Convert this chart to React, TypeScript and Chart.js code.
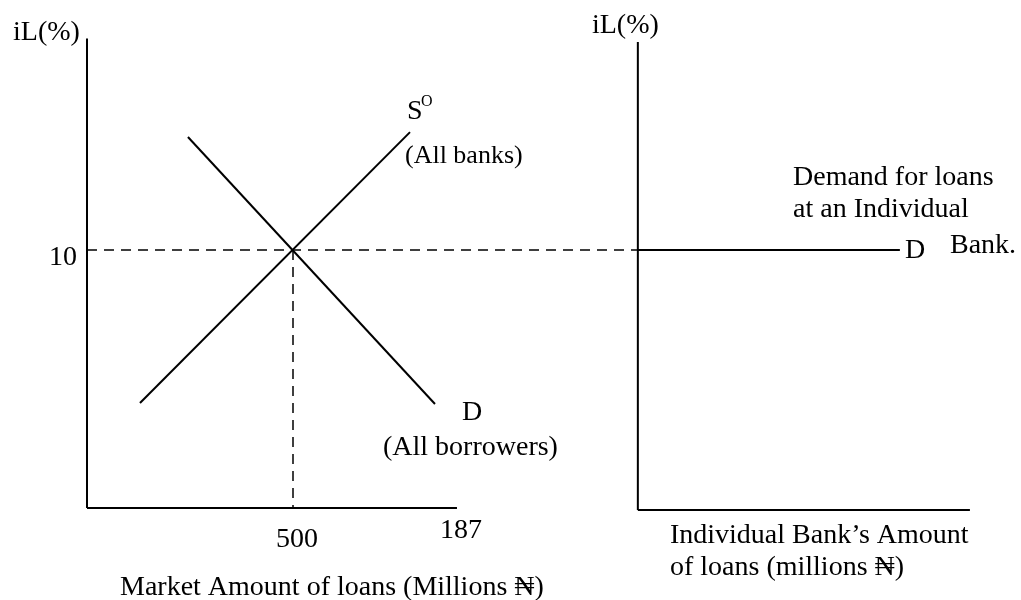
import React, { useEffect, useRef } from "react";
import { Chart, registerables } from "chart.js";

Chart.register(...registerables);

// Schematic units: quantity (millions ₦) on x, lending rate iL (%) on y.
// Left panel origin at (0,0); market equilibrium at Q = 500, iL = 10.
// Right panel (individual bank) origin placed at Q = 1337 on the same scale.

// --- Axes ---
const leftRateAxisQ = [0, 0];
const leftRateAxisR = [18.2, 0];
const leftQtyAxisQ = [0, 898];
const leftQtyAxisR = [0, 0];
const rightRateAxisQ = [1337, 1337];
const rightRateAxisR = [18.06, -0.08];
const rightQtyAxisQ = [1337, 2143];
const rightQtyAxisR = [-0.08, -0.08];

// --- Market supply S° (all banks) ---
const supplyQ = [128.6, 784];
const supplyR = [4.07, 14.57];

// --- Market demand D (all borrowers) ---
const demandQ = [245, 844.6];
const demandR = [14.38, 4.03];

// --- Equilibrium guide lines ---
const eqRateQ = [0, 1337];
const eqRateR = [10, 10];
const eqQtyQ = [500, 500];
const eqQtyR = [10, 0];

// --- Demand for loans at an individual bank (horizontal) ---
const bankDemandQ = [1337, 1973];
const bankDemandR = [10, 10];

// --- Tick labels ---
const rateTick = "10";
const qtyTick = "500";
const axisEndTick = "187";

// --- Text annotations ---
const annotTexts = [
  "iL(%)",
  "iL(%)",
  "S",
  "O",
  "(All banks)",
  "D",
  "(All borrowers)",
  rateTick,
  qtyTick,
  axisEndTick,
  "Market Amount of loans (Millions ₦)",
  "Individual Bank’s Amount",
  "of loans (millions ₦)",
  "Demand for loans",
  "at an Individual",
  "D",
  "Bank.",
];
const annotQ = [-179.6, 1225.7, 776.7, 810.7, 771.8, 910.2, 718.4, -24.3, 509.7, 856.8, 80.1, 1415, 1415, 1713.6, 1713.6, 1985.4, 2094.7];
const annotR = [18.14, 18.41, 15.08, 15.58, 13.37, 3.41, 2.05, 9.42, -1.51, -1.16, -3.37, -1.357, -2.597, 12.52, 11.28, 9.69, 9.88];
const annotAlign = ["left", "left", "left", "left", "left", "left", "left", "right", "center", "left", "left", "left", "left", "left", "left", "left", "left"];
const annotSize = [28, 28, 28, 16, 26, 28, 28, 28, 28, 28, 28, 28, 28, 28, 28, 28, 28];

const FONT_FAMILY = '"Liberation Serif", "Times New Roman", "DejaVu Serif", serif';

function pts(q: number[], r: number[]) {
  return q.map((v, i) => ({ x: v, y: r[i] }));
}

function lineDs(q: number[], r: number[], width: number, dash: number[] = []) {
  return {
    data: pts(q, r),
    showLine: true,
    borderColor: "#000",
    backgroundColor: "#000",
    borderWidth: width,
    borderDash: dash,
    pointRadius: 0,
    pointHoverRadius: 0,
    fill: false,
    tension: 0,
    borderCapStyle: "butt" as const,
  };
}

const textPlugin = {
  id: "diagramText",
  afterDatasetsDraw(chart: any) {
    const { ctx, scales } = chart;
    ctx.save();
    ctx.fillStyle = "#000";
    ctx.textBaseline = "alphabetic";
    annotTexts.forEach((t, i) => {
      ctx.font = `${annotSize[i]}px ${FONT_FAMILY}`;
      ctx.textAlign = annotAlign[i];
      const px = scales.x.getPixelForValue(annotQ[i]);
      const py = scales.y.getPixelForValue(annotR[i]);
      ctx.fillText(t, px, py);
    });
    ctx.restore();
  },
};

export default function App() {
  const ref = useRef<HTMLCanvasElement | null>(null);

  useEffect(() => {
    if (!ref.current) return;
    const chart = new Chart(ref.current, {
      type: "scatter",
      data: {
        datasets: [
          lineDs(leftRateAxisQ, leftRateAxisR, 2),
          lineDs(leftQtyAxisQ, leftQtyAxisR, 2),
          lineDs(rightRateAxisQ, rightRateAxisR, 2),
          lineDs(rightQtyAxisQ, rightQtyAxisR, 2),
          lineDs(supplyQ, supplyR, 2),
          lineDs(demandQ, demandR, 2),
          lineDs(eqRateQ, eqRateR, 1.5, [10, 7]),
          lineDs(eqQtyQ, eqQtyR, 1.5, [10, 7]),
          lineDs(bankDemandQ, bankDemandR, 2),
        ] as any,
      },
      options: {
        animation: false,
        responsive: false,
        maintainAspectRatio: false,
        layout: { padding: 0 },
        plugins: {
          legend: { display: false },
          tooltip: { enabled: false },
        },
        events: [],
        scales: {
          x: { type: "linear", display: false, min: -211.165, max: 2266.99 },
          y: { type: "linear", display: false, min: -3.566, max: 19.69 },
        },
      },
      plugins: [textPlugin],
    });
    return () => chart.destroy();
  }, []);

  return (
    <div style={{ position: "absolute", left: 0, top: 0, width: 1021, height: 600, background: "#fff" }}>
      <canvas ref={ref} width={1021} height={600} style={{ width: 1021, height: 600, display: "block" }} />
    </div>
  );
}
